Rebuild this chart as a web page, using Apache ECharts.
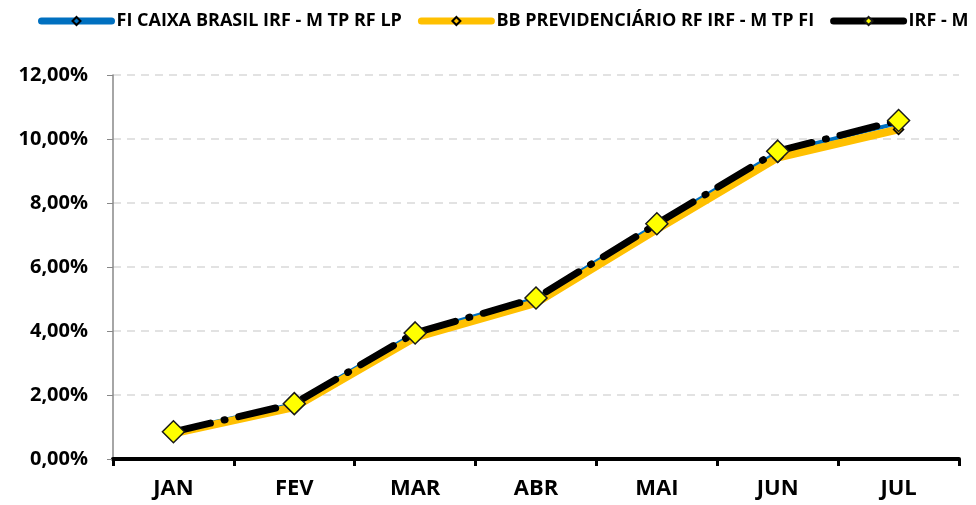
<!DOCTYPE html>
<html>
<head>
<meta charset="utf-8">
<script src="https://cdn.jsdelivr.net/npm/echarts@6/dist/echarts.min.js"></script>
<style>
  html, body { margin: 0; padding: 0; background: #fff; }
  #chart { width: 976px; height: 505px; }
</style>
</head>
<body>
<div id="chart"></div>
<script>
// meses
var months = ["JAN", "FEV", "MAR", "ABR", "MAI", "JUN", "JUL"];
// rentabilidade acumulada (%)
var caixaData = [0.86, 1.72, 3.93, 5.02, 7.33, 9.58, 10.50];
var bbData = [0.80, 1.62, 3.80, 4.88, 7.18, 9.42, 10.30];
var irfmData = [0.85, 1.73, 3.94, 5.03, 7.35, 9.62, 10.58];
var seriesNames = ["FI CAIXA BRASIL IRF - M TP RF LP", "BB PREVIDENCIÁRIO RF IRF - M TP FI", "IRF - M"];

var font = "'Open Sans', sans-serif";
var chart = echarts.init(document.getElementById("chart"));

chart.setOption({
  animation: false,
  legend: {
    top: 7,
    left: 33,
    width: 1200,
    itemWidth: 70,
    itemHeight: 10,
    itemGap: 16,
    textStyle: { fontFamily: font, fontWeight: "bold", fontSize: 18, color: "#000" },
    data: [
      { name: seriesNames[0], lineStyle: { width: 7, cap: "round" } },
      { name: seriesNames[1], lineStyle: { width: 7, cap: "round" } },
      { name: seriesNames[2], lineStyle: { width: 7, cap: "round", type: "solid" } }
    ]
  },
  grid: {
    left: 113,
    right: 17,
    top: 75,
    bottom: 46,
    containLabel: false
  },
  xAxis: {
    type: "category",
    data: months,
    boundaryGap: true,
    axisLine: { lineStyle: { color: "#000", width: 4 } },
    axisTick: { show: true, length: 7, lineStyle: { color: "#000", width: 3 } },
    axisLabel: { margin: 19, fontFamily: font, fontWeight: "bold", fontSize: 22, color: "#000" },
    splitLine: { show: false }
  },
  yAxis: {
    type: "value",
    min: 0,
    max: 12,
    interval: 2,
    axisLine: { show: true, lineStyle: { color: "#888", width: 1.5 } },
    axisTick: { show: true, length: 6, lineStyle: { color: "#888" } },
    axisLabel: {
      margin: 25,
      fontFamily: font,
      fontWeight: "bold",
      fontSize: 20,
      color: "#000",
      formatter: function (v) { return v.toFixed(2).replace(".", ",") + "%"; }
    },
    splitLine: { show: true, lineStyle: { color: "#d9d9d9", type: [8, 6], width: 1.5 } }
  },
  series: [
    {
      name: seriesNames[0],
      type: "line",
      data: caixaData,
      symbol: "diamond",
      symbolSize: 8,
      showSymbol: false,
      itemStyle: { color: "#0070c0", borderColor: "#000", borderWidth: 1.5 },
      lineStyle: { color: "#0070c0", width: 4 },
      z: 2
    },
    {
      name: seriesNames[1],
      type: "line",
      data: bbData,
      symbol: "diamond",
      symbolSize: 10,
      itemStyle: { color: "#ffc000", borderColor: "#000", borderWidth: 1.5 },
      lineStyle: { color: "#ffc000", width: 8 },
      z: 3
    },
    {
      name: seriesNames[2],
      type: "line",
      data: irfmData,
      symbol: "diamond",
      symbolSize: 22,
      itemStyle: { color: "#ffff00", borderColor: "#1a1a1a", borderWidth: 1.5 },
      lineStyle: { color: "#000", width: 7, type: [38, 14, 1, 14], cap: "round" },
      z: 4
    }
  ]
});
</script>
</body>
</html>
